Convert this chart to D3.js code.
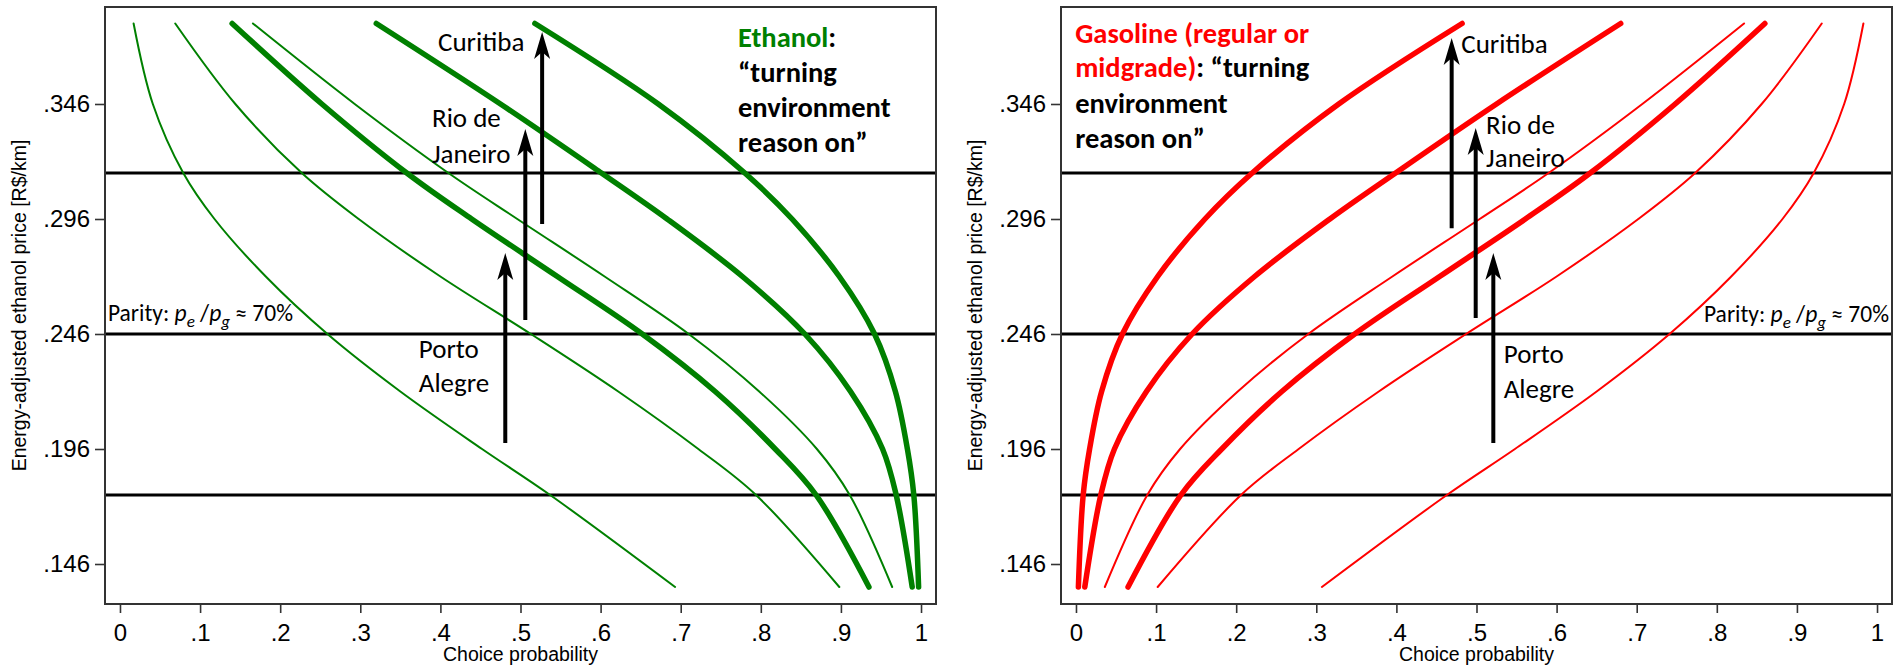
<!DOCTYPE html>
<html>
<head>
<meta charset="utf-8">
<script src="https://cdn.jsdelivr.net/npm/d3@7"></script>
<style>
  html, body { margin: 0; padding: 0; background: #fff; }
  svg { display: block; }
</style>
</head>
<body>
<svg id="chart" width="1904" height="669"></svg>
<script>
const prices = [0.381, 0.346, 0.316, 0.296, 0.271, 0.246, 0.221, 0.196, 0.176, 0.136];

// Ethanol choice probability (left panel)
const ethPortoBase = [0.017, 0.041, 0.079, 0.118, 0.182, 0.259, 0.350, 0.452, 0.537, 0.693];
const ethRioBase   = [0.069, 0.144, 0.227, 0.298, 0.400, 0.513, 0.622, 0.722, 0.794, 0.898];
const ethPortoEnv  = [0.140, 0.252, 0.358, 0.439, 0.546, 0.652, 0.743, 0.818, 0.869, 0.935];
const ethCurBase   = [0.166, 0.293, 0.410, 0.496, 0.605, 0.710, 0.798, 0.870, 0.911, 0.964];
const ethRioEnv    = [0.320, 0.475, 0.601, 0.683, 0.777, 0.855, 0.912, 0.952, 0.969, 0.989];
const ethCurEnv    = [0.518, 0.672, 0.780, 0.839, 0.898, 0.942, 0.968, 0.983, 0.991, 0.997];

// Gasoline choice probability (right panel)
const gasPortoBase = [0.983, 0.959, 0.921, 0.882, 0.818, 0.741, 0.650, 0.548, 0.463, 0.307];
const gasRioBase   = [0.931, 0.856, 0.773, 0.702, 0.600, 0.487, 0.378, 0.278, 0.206, 0.102];
const gasPortoEnv  = [0.860, 0.748, 0.642, 0.561, 0.454, 0.348, 0.257, 0.182, 0.131, 0.065];
const gasCurBase   = [0.834, 0.707, 0.590, 0.504, 0.395, 0.290, 0.202, 0.130, 0.089, 0.036];
const gasRioEnv    = [0.680, 0.525, 0.399, 0.317, 0.223, 0.145, 0.088, 0.048, 0.031, 0.011];
const gasCurEnv    = [0.482, 0.328, 0.220, 0.161, 0.102, 0.058, 0.032, 0.017, 0.009, 0.003];

// Parity price levels (horizontal lines)
const parityLevels = [0.316, 0.246, 0.176];

// Axis ticks
const xTicks = [0, 0.1, 0.2, 0.3, 0.4, 0.5, 0.6, 0.7, 0.8, 0.9, 1];
const yTicks = [0.146, 0.196, 0.246, 0.296, 0.346];

// Arrows (x = probability, from price y0 to price y1)
const ethArrows = [
    { x: 0.481, y0: 0.1986, y1: 0.2812 },
    { x: 0.506, y0: 0.2521, y1: 0.3351 },
    { x: 0.527, y0: 0.2938, y1: 0.3773 }
];
const gasArrows = [
    { x: 0.521, y0: 0.1986, y1: 0.2812 },
    { x: 0.499, y0: 0.2530, y1: 0.3356 },
    { x: 0.469, y0: 0.2920, y1: 0.3747 }
];

// City labels (lines of text, anchor in data units)
const ethCityLabels = [
    { lines: ["Curitiba"], x: 0.397, y: [0.369] },
    { lines: ["Rio de", "Janeiro"], x: 0.3895, y: [0.336, 0.3204] },
    { lines: ["Porto", "Alegre"], x: 0.373, y: [0.2356, 0.2208] }
];
const gasCityLabels = [
    { lines: ["Curitiba"], x: 0.481, y: [0.3682] },
    { lines: ["Rio de", "Janeiro"], x: 0.512, y: [0.333, 0.3186] },
    { lines: ["Porto", "Alegre"], x: 0.534, y: [0.2334, 0.2182] }
];

const GREEN = "#008000";
const RED = "#ff0000";
const labelFont = "Carlito, Calibri, Lato, sans-serif";
const axisFont = "Arial, 'Liberation Sans', Helvetica, sans-serif";

const svg = d3.select("#chart");

const plotTop = 7, plotBottom = 604, plotW = 831;
const xDomain = [-0.0187, 1.0187];
const yDomain = [0.12861, 0.38817];

function drawPanel(cfg) {
    const x = d3.scaleLinear().domain(xDomain).range([cfg.left, cfg.left + plotW]);
    const y = d3.scaleLinear().domain(yDomain).range([plotBottom, plotTop]);
    const g = svg.append("g");

    // parity reference lines
    g.selectAll(".hline")
        .data(parityLevels)
        .enter()
        .append("line")
        .attr("x1", x.range()[0]).attr("x2", x.range()[1])
        .attr("y1", d => y(d)).attr("y2", d => y(d))
        .attr("stroke", "#000")
        .attr("stroke-width", 3);

    // curves
    const line = d3.line()
        .x(d => x(d.p))
        .y(d => y(d.price))
        .curve(d3.curveCatmullRom.alpha(0.5));

    g.selectAll(".curve")
        .data(cfg.curves)
        .enter()
        .append("path")
        .attr("fill", "none")
        .attr("stroke", cfg.color)
        .attr("stroke-width", d => d.thick ? 5.5 : 2)
        .attr("stroke-linecap", "round")
        .attr("stroke-linejoin", "round")
        .attr("d", d => line(prices.map((pr, i) => ({ price: pr, p: d.values[i] }))));

    // frame
    g.append("rect")
        .attr("x", x.range()[0]).attr("y", plotTop)
        .attr("width", plotW).attr("height", plotBottom - plotTop)
        .attr("fill", "none")
        .attr("stroke", "#333")
        .attr("stroke-width", 2);

    // axes
    const yAxis = g.append("g")
        .attr("transform", `translate(${x.range()[0]},0)`)
        .call(d3.axisLeft(y)
            .tickValues(yTicks)
            .tickSize(10)
            .tickPadding(5)
            .tickFormat(d => d3.format(".3f")(d).replace(/^0/, "")));
    const xAxis = g.append("g")
        .attr("transform", `translate(0,${plotBottom})`)
        .call(d3.axisBottom(x)
            .tickValues(xTicks)
            .tickSize(9)
            .tickPadding(11)
            .tickFormat(d => d === 0 ? "0" : d === 1 ? "1" : d3.format(".1f")(d).replace(/^0/, "")));
    [xAxis, yAxis].forEach(a => {
        a.select(".domain").remove();
        a.selectAll(".tick line").attr("stroke", "#333").attr("stroke-width", 1.6);
        a.selectAll(".tick text")
            .attr("fill", "#000")
            .style("font-family", axisFont)
            .style("font-size", "24px");
    });

    // axis titles
    g.append("text")
        .attr("x", cfg.left + plotW / 2)
        .attr("y", 661)
        .attr("text-anchor", "middle")
        .style("font-family", axisFont)
        .style("font-size", "19.5px")
        .text("Choice probability");
    g.append("text")
        .attr("transform", `translate(${cfg.left - 79},${(plotTop + plotBottom) / 2}) rotate(-90)`)
        .attr("text-anchor", "middle")
        .style("font-family", axisFont)
        .style("font-size", "19.5px")
        .text("Energy-adjusted ethanol price [R$/km]");

    // arrows
    cfg.arrows.forEach(a => {
        const ax = x(a.x), yb = y(a.y0), yt = y(a.y1);
        g.append("line")
            .attr("x1", ax).attr("x2", ax)
            .attr("y1", yb).attr("y2", yt + 14)
            .attr("stroke", "#000")
            .attr("stroke-width", 4);
        g.append("path")
            .attr("d", `M${ax},${yt} L${ax + 8},${yt + 27} L${ax},${yt + 20} L${ax - 8},${yt + 27} Z`)
            .attr("fill", "#000");
    });

    // city labels
    cfg.cityLabels.forEach(l => {
        l.lines.forEach((t, i) => {
            g.append("text")
                .attr("x", x(l.x))
                .attr("y", y(l.y[i]))
                .style("font-family", labelFont)
                .style("font-size", "27px")
                .attr("fill", "#000")
                .text(t);
        });
    });

    // panel title
    const title = g.append("g")
        .style("font-family", labelFont)
        .style("font-size", "28.5px")
        .style("font-weight", "bold");
    cfg.titleLines.forEach((parts, i) => {
        const t = title.append("text")
            .attr("x", x(cfg.titleX))
            .attr("y", y(cfg.titleY[i]));
        parts.forEach(p => t.append("tspan").attr("fill", p.color).text(p.text));
    });

    // parity note
    const pt = g.append("text")
        .attr("x", x(cfg.parity.x))
        .attr("y", y(cfg.parity.y))
        .style("font-family", labelFont)
        .style("font-size", "23.5px")
        .attr("fill", "#000");
    pt.append("tspan").text("Parity: ");
    pt.append("tspan").style("font-style", "italic").text("p");
    pt.append("tspan").attr("dy", 6).style("font-size", "17px").style("font-style", "italic").text("e");
    pt.append("tspan").attr("dy", -6).text(" /");
    pt.append("tspan").style("font-style", "italic").text("p");
    pt.append("tspan").attr("dy", 6).style("font-size", "17px").style("font-style", "italic").text("g");
    pt.append("tspan").attr("dy", -6).text(" \u2248 70%");
}

drawPanel({
    left: 105,
    color: GREEN,
    curves: [
        { values: ethPortoBase, thick: false },
        { values: ethRioBase, thick: false },
        { values: ethPortoEnv, thick: true },
        { values: ethCurBase, thick: false },
        { values: ethRioEnv, thick: true },
        { values: ethCurEnv, thick: true }
    ],
    arrows: ethArrows,
    cityLabels: ethCityLabels,
    titleX: 0.7715,
    titleY: [0.3708, 0.3556, 0.3403, 0.3251],
    titleLines: [
        [{ text: "Ethanol", color: GREEN }, { text: ":", color: "#000" }],
        [{ text: "\u201cturning", color: "#000" }],
        [{ text: "environment", color: "#000" }],
        [{ text: "reason on\u201d", color: "#000" }]
    ],
    parity: { x: -0.015, y: 0.2517 }
});

drawPanel({
    left: 1061,
    color: RED,
    curves: [
        { values: gasCurEnv, thick: true },
        { values: gasRioEnv, thick: true },
        { values: gasCurBase, thick: false },
        { values: gasPortoEnv, thick: true },
        { values: gasRioBase, thick: false },
        { values: gasPortoBase, thick: false }
    ],
    arrows: gasArrows,
    cityLabels: gasCityLabels,
    titleX: -0.001,
    titleY: [0.3725, 0.3578, 0.3421, 0.3269],
    titleLines: [
        [{ text: "Gasoline (regular or", color: RED }],
        [{ text: "midgrade)", color: RED }, { text: ": \u201cturning", color: "#000" }],
        [{ text: "environment", color: "#000" }],
        [{ text: "reason on\u201d", color: "#000" }]
    ],
    parity: { x: 0.784, y: 0.2512 }
});
</script>
</body>
</html>
